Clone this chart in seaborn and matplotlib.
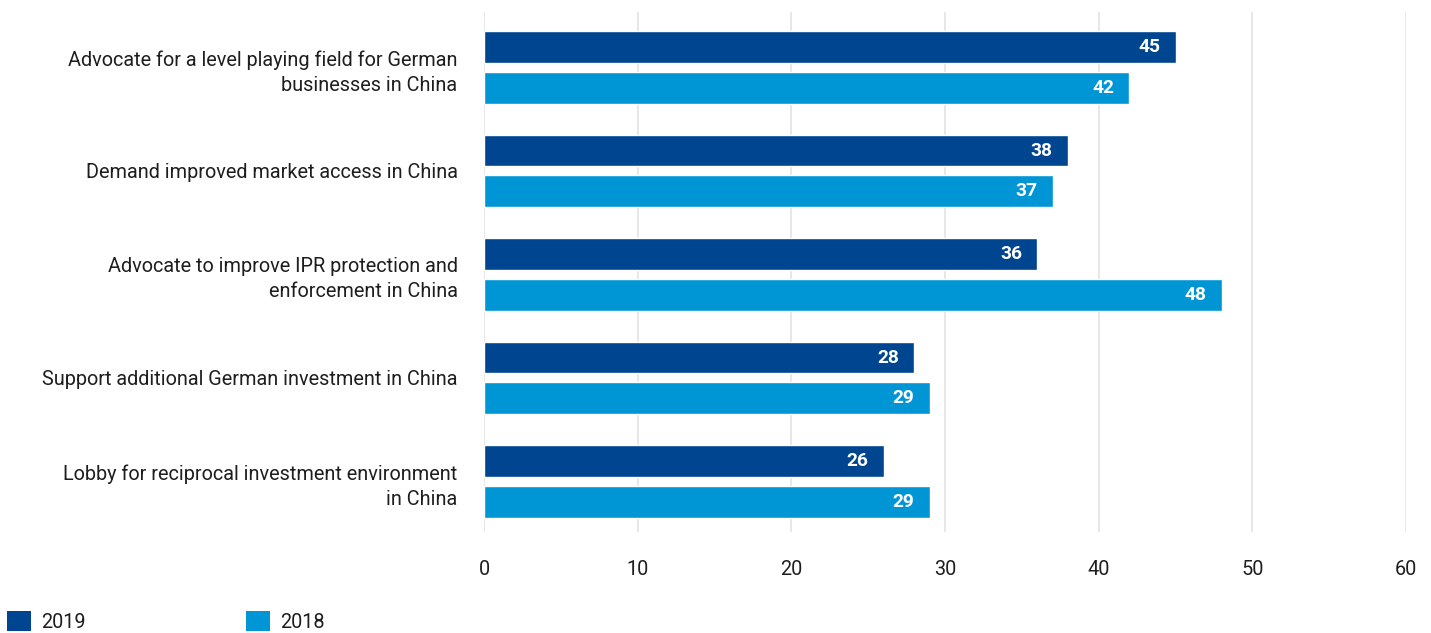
import matplotlib
matplotlib.use("Agg")
import matplotlib.pyplot as plt
import seaborn as sns
import pandas as pd
from matplotlib.patches import Patch

categories = [
    "Advocate for a level playing field for German\nbusinesses in China",
    "Demand improved market access in China",
    "Advocate to improve IPR protection and\nenforcement in China",
    "Support additional German investment in China",
    "Lobby for reciprocal investment environment\nin China",
]
values_2019 = [45, 38, 36, 28, 26]
values_2018 = [42, 37, 48, 29, 29]
series = ["2019", "2018"]
colors = ["#00458f", "#0096d6"]

df = pd.DataFrame({
    "category": categories * 2,
    "year": [series[0]] * len(categories) + [series[1]] * len(categories),
    "value": values_2019 + values_2018,
})

sns.set_theme(style="white")
plt.rcParams["font.family"] = ["Roboto", "DejaVu Sans"]

fig = plt.figure(figsize=(14.31, 6.33), dpi=100)
ax = fig.add_axes([484 / 1431, 1 - 532 / 633, (1406 - 484) / 1431, 520 / 633])

sns.barplot(data=df, y="category", x="value", hue="year", order=categories,
            hue_order=series, palette=colors, orient="h", width=0.79, gap=0.22,
            ax=ax, legend=False, saturation=1)

ax.set_xlim(0, 60)
ax.set_ylim(4.488, -0.536)
ax.set_xticks(range(0, 61, 10))
ax.xaxis.grid(True, color="#e3e3e3", linewidth=1.2)
ax.set_axisbelow(True)
for s in ax.spines.values():
    s.set_visible(False)
ax.set_xlabel("")
ax.set_ylabel("")
ax.tick_params(axis="y", length=0, pad=19, labelsize=14.3, labelcolor="#1e1e1e")
ax.tick_params(axis="x", length=0, pad=20, labelsize=14.3, labelcolor="#1e1e1e")
for lab in ax.get_yticklabels():
    lab.set_horizontalalignment("right")
    lab.set_multialignment("right")
    lab.set_linespacing(1.4)

for cont in ax.containers:
    anns = ax.bar_label(cont, fmt="%d", padding=-11, color="white",
                        fontsize=13.8, fontweight="bold")
    for a in anns:
        a.set_horizontalalignment("right")

handles = [Patch(facecolor=c, edgecolor="none") for c in colors]
fig.legend(handles, series, loc="lower left", bbox_to_anchor=(-0.002, -0.014),
           ncol=2, frameon=False, fontsize=14.3, handlelength=1.2,
           handleheight=1.2, handletextpad=0.5, columnspacing=8.1,
           borderaxespad=0.1, labelcolor="#1e1e1e")

fig.savefig("out.png", dpi=100)
